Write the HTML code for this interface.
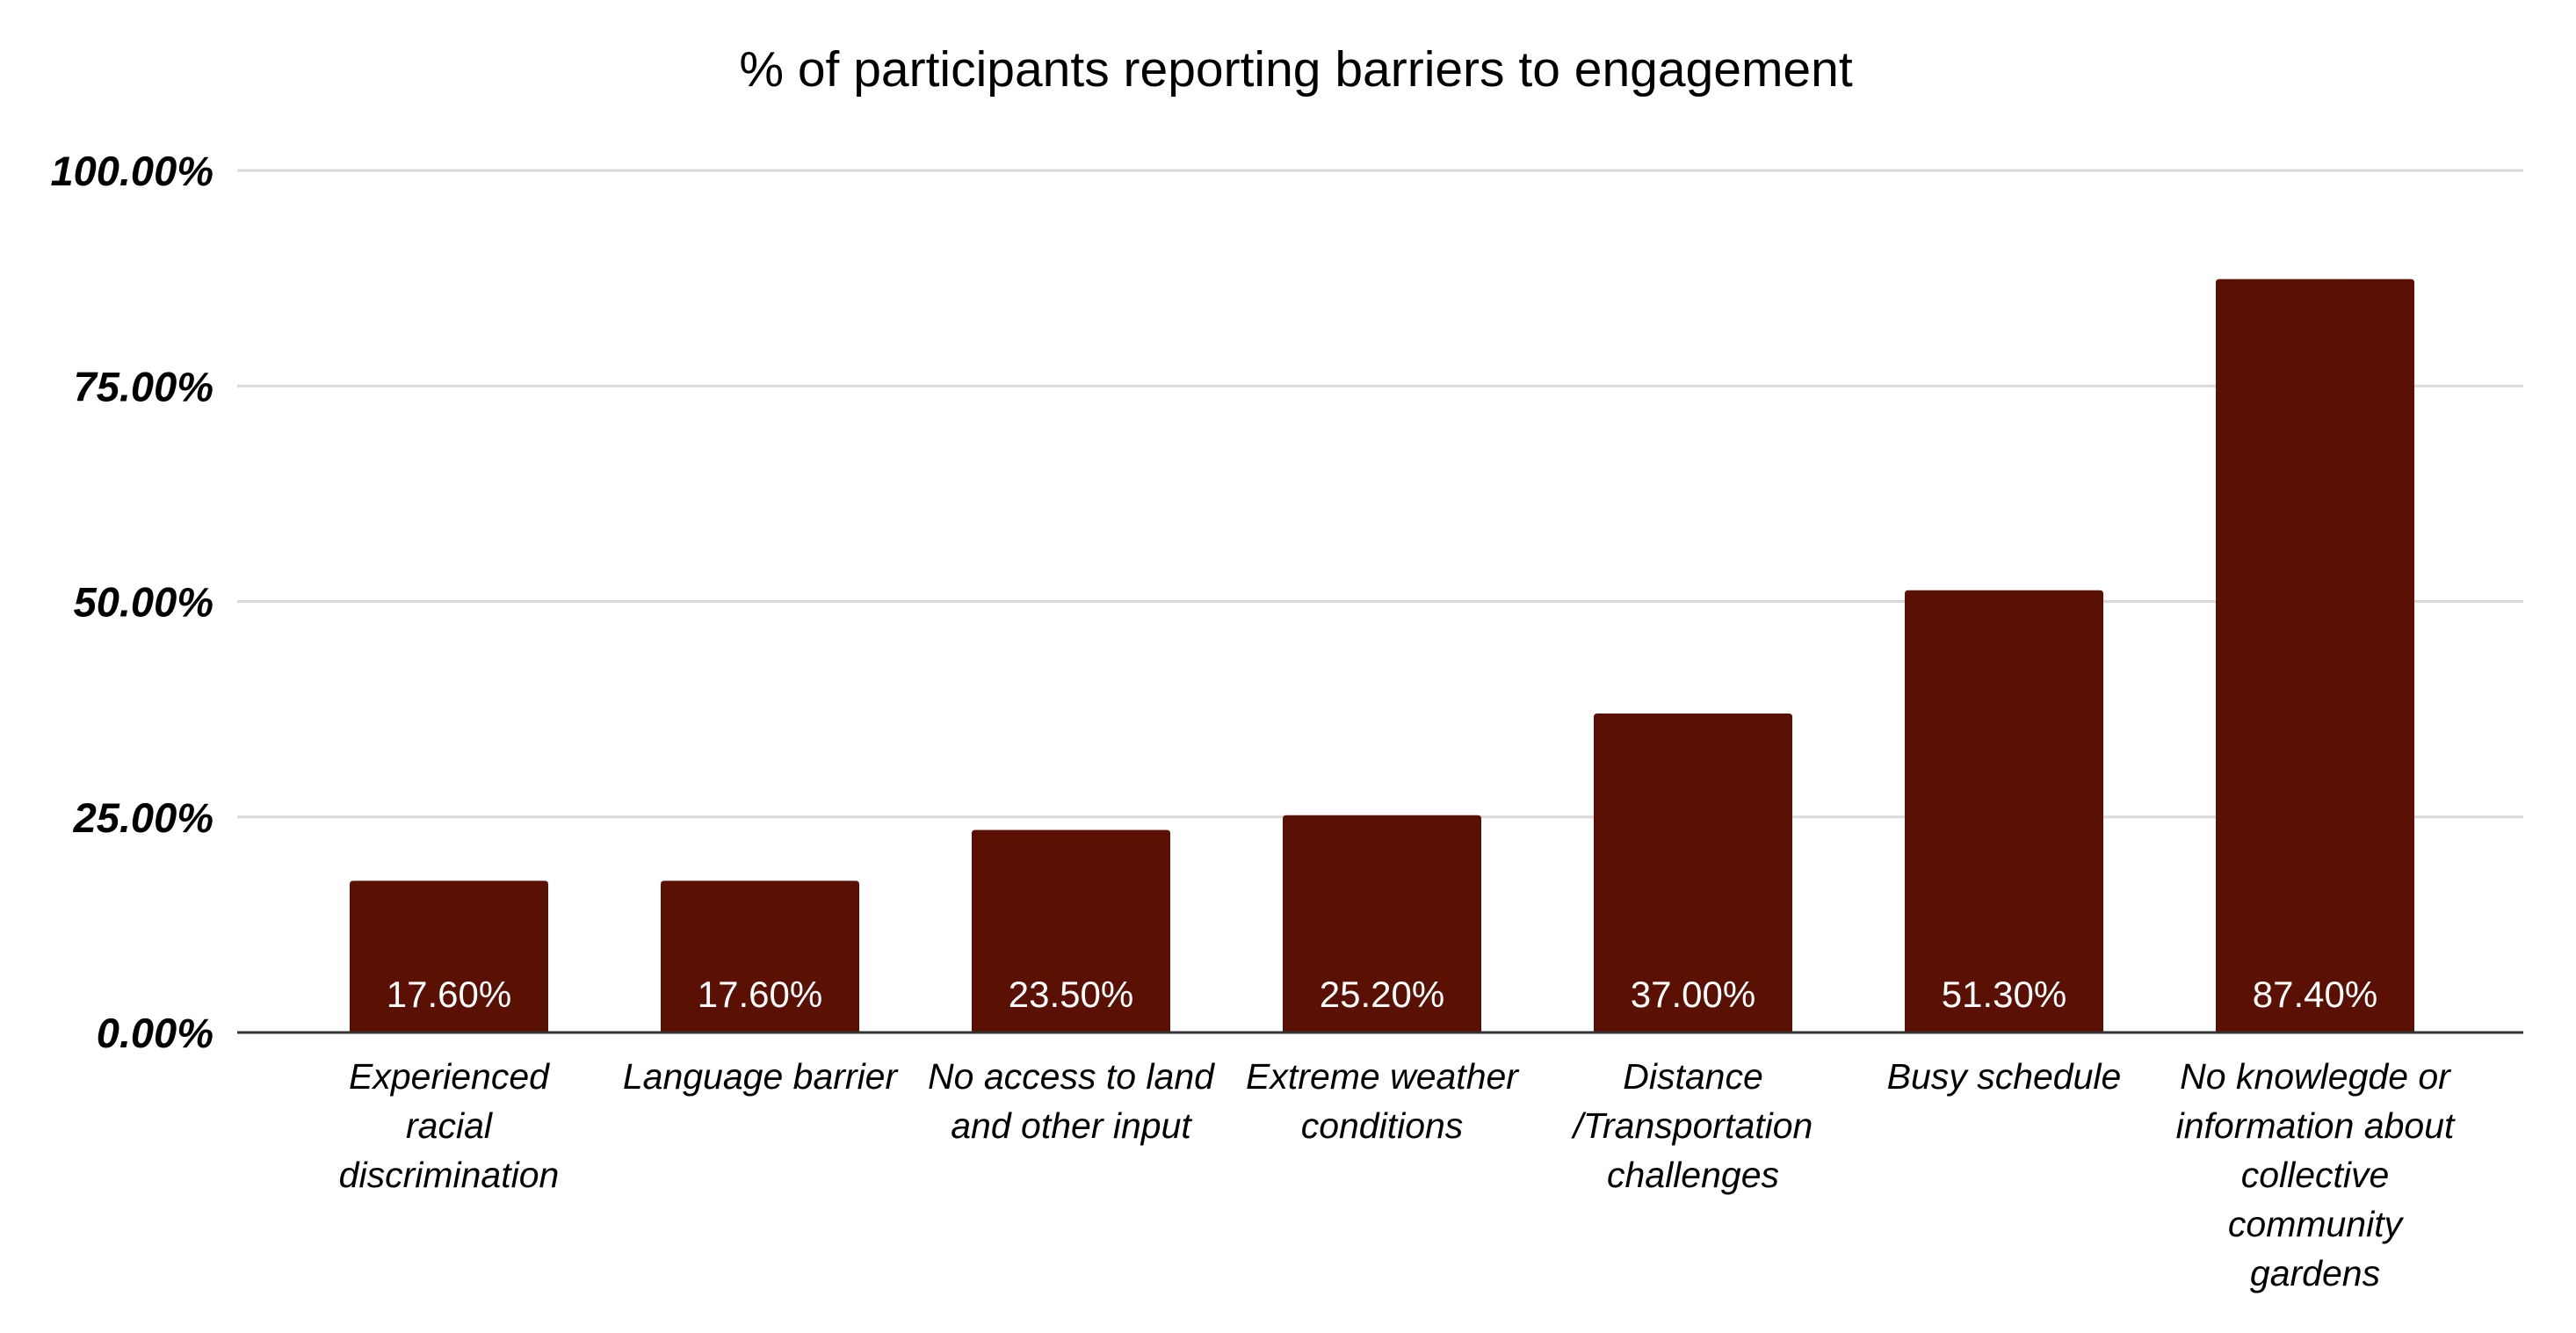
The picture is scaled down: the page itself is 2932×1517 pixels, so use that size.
<!DOCTYPE html>
<html><head><meta charset="utf-8"><style>
html,body{margin:0;padding:0;background:#fff;}
svg{display:block;font-family:"Liberation Sans",Arial,sans-serif;}
</style></head><body>
<svg id="chart" width="2932" height="1517" viewBox="0 0 2932 1517" xmlns="http://www.w3.org/2000/svg">
<rect width="2932" height="1517" fill="#fff"/>
<text x="1475" y="98" text-anchor="middle" font-size="57" fill="#000">% of participants reporting barriers to engagement</text>
<g id="grid"></g><g id="bars"></g><g id="xlabels"></g>
</svg>
<script>
const categories = [
  ["Experienced","racial","discrimination"],
  ["Language barrier"],
  ["No access to land","and other input"],
  ["Extreme weather","conditions"],
  ["Distance","/Transportation","challenges"],
  ["Busy schedule"],
  ["No knowlegde or","information about","collective","community","gardens"]
];
const values = [17.6, 17.6, 23.5, 25.2, 37.0, 51.3, 87.4];
const valueLabels = ["17.60%","17.60%","23.50%","25.20%","37.00%","51.30%","87.40%"];
const ticks = [0, 25, 50, 75, 100];
const tickLabels = ["0.00%","25.00%","50.00%","75.00%","100.00%"];

const NS = "http://www.w3.org/2000/svg";
const y0 = 1175, yTop = 194, plotL = 270, plotR = 2872;
function yScale(v){ return y0 - (v/100)*(y0 - yTop); }
function xCenter(i){ return 511 + i*354; }
const barW = 226;
function mk(tag, attrs, parent){ const e=document.createElementNS(NS,tag); for(const k in attrs) e.setAttribute(k, attrs[k]); parent.appendChild(e); return e; }

const grid = document.getElementById('grid');
ticks.forEach((t,i)=>{
  const y = yScale(t);
  if (t !== 0) {
    const l = mk('line',{x1:plotL,x2:plotR,y1:y,y2:y,stroke:'#d9d9d9','stroke-width':3},grid);
    
    
  }
  const tx = mk('text',{x:243,y:y+17,'text-anchor':'end','font-size':47,'font-weight':'bold','font-style':'italic',fill:'#000'},grid);
  tx.textContent = tickLabels[i];
  
  
});

const bars = document.getElementById('bars');
values.forEach((v,i)=>{
  const cx = xCenter(i), top = yScale(v);
  const r = mk('path',{d:`M${cx-barW/2},${y0} V${top+4} Q${cx-barW/2},${top} ${cx-barW/2+4},${top} H${cx+barW/2-4} Q${cx+barW/2},${top} ${cx+barW/2},${top+4} V${y0} Z`,fill:'#5a1002'},bars);
  
  
  const t = mk('text',{x:cx,y:1146,'text-anchor':'middle','font-size':42,fill:'#fff'},bars);
  t.textContent = valueLabels[i];
  
  
});
const base = mk('line',{x1:plotL,x2:plotR,y1:y0,y2:y0,stroke:'#333','stroke-width':3},bars);



const xl = document.getElementById('xlabels');
categories.forEach((lines,i)=>{
  const t = mk('text',{x:xCenter(i),y:1239,'text-anchor':'middle','font-size':41,'font-style':'italic',fill:'#000'},xl);
  
  
  lines.forEach((s,j)=>{
    const ts = mk('tspan',{x:xCenter(i),dy: j===0?0:56},t);
    ts.textContent = s;
  });
});
</script>
</body></html>
